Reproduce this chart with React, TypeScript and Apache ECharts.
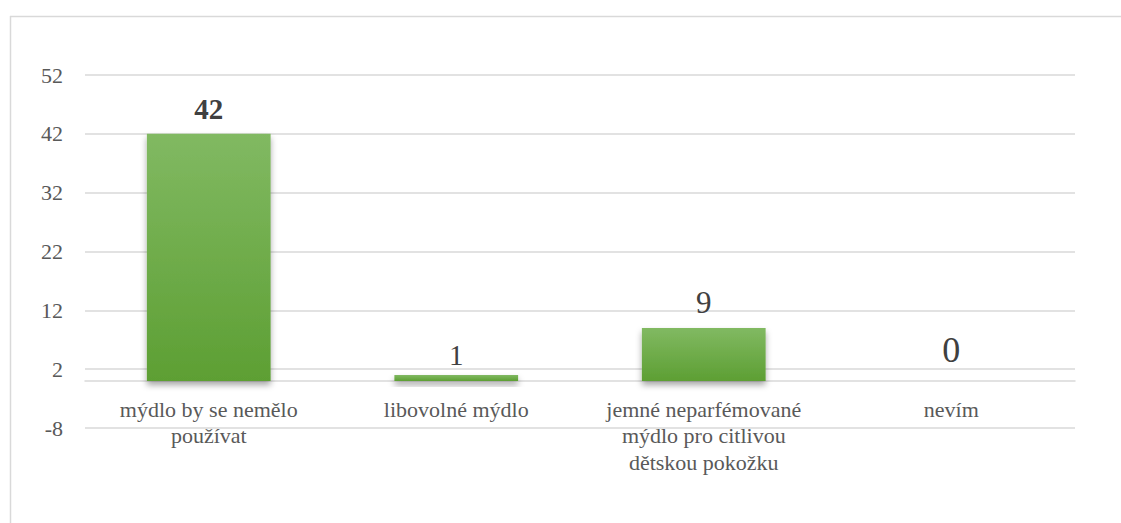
import React, { useEffect, useRef } from "react";
import * as echarts from "echarts";

const categories = [
  "mýdlo by se nemělo\npoužívat",
  "libovolné mýdlo",
  "jemné neparfémované\nmýdlo pro citlivou\ndětskou pokožku",
  "nevím",
];
const values = [42, 1, 9, 0];
const labelSizes = [29, 29, 31, 36];
const labelBold = [true, false, false, false];
const labelDistance = [10, 6, 10, 13];

const yMin = -8;
const yMax = 52;
const yInterval = 10;

export default function App() {
  const ref = useRef<HTMLDivElement>(null);
  useEffect(() => {
    if (!ref.current) return;
    const chart = echarts.init(ref.current, null, { renderer: "svg" });
    const font = "Times New Roman, Liberation Serif, DejaVu Serif, serif";
    chart.setOption({
      animation: false,
      backgroundColor: "#ffffff",
      textStyle: { fontFamily: font },
      graphic: [
        { type: "line", shape: { x1: 10, y1: 16.5, x2: 1121, y2: 16.5 }, style: { stroke: "#d9d9d9", lineWidth: 1.5 } },
        { type: "line", shape: { x1: 10.5, y1: 16, x2: 10.5, y2: 523 }, style: { stroke: "#d9d9d9", lineWidth: 1.5 } },
      ],
      grid: { left: 85, right: 46, top: 75, bottom: 95, containLabel: false },
      xAxis: {
        type: "category",
        data: categories,
        axisTick: { show: false },
        axisLine: { show: true, onZero: true, lineStyle: { color: "#d9d9d9", width: 1.5 } },
        axisLabel: {
          fontFamily: font,
          fontSize: 22,
          lineHeight: 26.5,
          color: "#595959",
          margin: -32,
          interval: 0,
        },
      },
      yAxis: {
        type: "value",
        min: yMin,
        max: yMax,
        interval: yInterval,
        axisLine: { show: false },
        axisTick: { show: false },
        splitLine: { lineStyle: { color: "#d9d9d9", width: 1.5 } },
        axisLabel: { fontFamily: font, fontSize: 22, color: "#595959", margin: 22 },
      },
      series: [
        {
          type: "bar",
          barWidth: "50%",
          data: values.map((v, i) => ({
            value: v,
            label: {
              show: true,
              position: "top",
              distance: labelDistance[i],
              fontFamily: font,
              fontSize: labelSizes[i],
              fontWeight: labelBold[i] ? "bold" : "normal",
              color: "#404040",
            },
          })),
          itemStyle: {
            color: new echarts.graphic.LinearGradient(0, 0, 0, 1, [
              { offset: 0, color: "#81b962" },
              { offset: 1, color: "#5d9f33" },
            ]),
            shadowColor: "rgba(0,0,0,0.35)",
            shadowBlur: 6,
            shadowOffsetY: 4,
          },
        },
      ],
    });
    return () => chart.dispose();
  }, []);
  return (
    <div
      ref={ref}
      style={{ position: "fixed", left: 0, top: 0, width: 1121, height: 523 }}
    />
  );
}
